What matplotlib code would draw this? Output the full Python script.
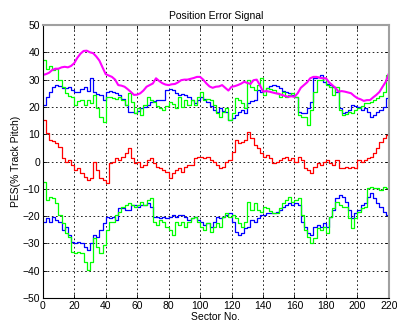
import matplotlib
matplotlib.use("Agg")
import matplotlib.pyplot as plt
import numpy as np

plt.rcParams["font.family"] = ["Liberation Sans", "DejaVu Sans"]

sectors = np.arange(0, 221, 2)

pes_max = [
    31.7, 32, 32.5, 33.5, 34, 34, 34.5, 34.7, 34.5, 35,
    36, 38, 39.5, 40.5, 40.6, 40, 39.7, 38.5, 37, 34.5,
    32, 31.5, 31, 30, 28, 27.8, 27.4, 26.5, 25.5, 24.4,
    24.5, 25, 26, 27.4, 28, 28.6, 30.5, 29.5, 28.7, 28.2,
    28, 28.3, 28.4, 29, 29.8, 30, 30, 30.3, 30.6, 31,
    31, 30, 28.6, 27.5, 27, 27.4, 27.5, 28, 27, 26,
    27.4, 27.6, 28, 28.5, 29.2, 28.8, 28.4, 29.8, 30, 28,
    25.6, 25.8, 25.6, 25.3, 25, 24.8, 24.4, 24, 23.7, 23.9,
    23.7, 25, 27, 28, 29, 30.5, 31, 31, 30.7, 30.5,
    30.5, 29, 28, 27, 25.6, 25.8, 25.6, 25.3, 25, 24,
    23.2, 22.8, 22.2, 22.5, 22.5, 23.5, 24.4, 25.5, 27.4, 29.2,
    32.3,
]

blue_upper = [
    20.7, 23.7, 25.5, 27.4, 28, 27.5, 26.8, 27, 27.4, 26.2,
    25.6, 25.6, 26.5, 27.4, 26, 30.5, 25.6, 24.8, 24.4, 22.5,
    25.6, 25.8, 25.6, 25, 24.4, 23, 20.7, 18.2, 18.2, 17.7,
    18.5, 19.6, 20, 20.7, 21.9, 22, 22.5, 22.5, 22.5, 26.2,
    26.5, 26.2, 25, 24.4, 24.6, 24.4, 23.5, 22.5, 21.4, 22.5,
    23.7, 22.8, 21.9, 20.5, 18.9, 18, 19.6, 18.5, 18.2, 15.2,
    16, 17, 18, 18.9, 17.7, 21.4, 22, 22.5, 26.2, 25.6,
    26, 26.8, 27.5, 28, 27.5, 26.8, 26, 25.6, 25, 24.4,
    23.7, 18.2, 17.7, 17.7, 19.6, 21.9, 30.5, 31, 31.7, 29.2,
    28.5, 28, 27.4, 25.6, 19.6, 17.7, 18, 18.9, 20.7, 20.5,
    20, 18.9, 19.6, 18.2, 16.4, 17, 18.2, 19, 20, 23.1,
    22,
]

green_upper = [
    37.2, 34, 35, 33.5, 34, 29.8, 27.4, 25, 24, 23.7,
    20.7, 22, 22.5, 20.7, 22.5, 21.4, 24.4, 19.6, 16.4, 14.3,
    23.7, 23.5, 23.1, 23, 23.7, 22.5, 20.7, 25, 21.9, 17.7,
    19.6, 17, 20.7, 23.7, 22.5, 21.9, 20.5, 19.6, 18.9, 20.5,
    21.9, 21, 19.6, 23.7, 20, 22.5, 20.7, 22.5, 20.7, 23.7,
    25.6, 22.5, 23, 22.5, 20.7, 17.7, 16.4, 18, 19.6, 15.2,
    17.7, 23.1, 22.5, 21.4, 19.6, 29.8, 27.4, 26.2, 28, 30.5,
    24.4, 26.8, 26.5, 26.2, 25, 23.7, 25.6, 23.7, 24.5, 25,
    23.7, 17, 16.4, 16.4, 13.4, 18.9, 25.6, 29.8, 30, 30.5,
    28, 27.4, 24.4, 27.4, 18.9, 17, 17.5, 18.2, 17.7, 18.9,
    19.6, 20.5, 21.4, 21.5, 21.9, 22.5, 23.1, 24, 25.6, 31.7,
    34.2,
]

pes_mean = [
    15.2, 10.4, 8, 7.5, 6.7, 5.5, 1.2, 0, 0.5, -1.3,
    -3.1, -2.5, -4.3, -5.6, -6.8, -6.2, 0, -3, -6.2, -6.8,
    -8, -0.6, 0, 1.2, 0.6, 1.8, 3, 5, 1.2, -0.6,
    0, -1.9, -1.3, 0.6, 1.2, -0.6, -1.9, -2.5, -3.1, -3.7,
    -6.2, -4.3, -3.1, -2.5, -3.7, -1.9, -1.3, -1.3, 1.2, 1.8,
    1.8, 1.2, 1.8, 0.6, 0, -1.3, -2.5, -1.9, 0, 0.6,
    3.6, 7.9, 6.7, 7.3, 7.9, 10.9, 8.5, 6, 4.8, 3,
    1.8, 2.4, 1.2, -0.6, 0, 0.6, 1.2, 1.8, 0.6, 1.2,
    0, 1.8, 0.6, -2.5, -3.1, -4.3, -1.9, -0.6, -1.3, 0,
    0.6, -0.6, -1.3, 0.6, -2.5, -2.5, -2, -2.5, -1.9, -2.5,
    0.6, 0, 0.6, 1.3, 1.8, 3, 4.8, 7.3, 8.5, 9.7,
    12.7,
]

blue_lower = [
    -22, -20.8, -22, -20.2, -21.4, -22, -25, -23.9, -26.9, -29.4,
    -30, -29.4, -30, -31.2, -32.4, -30, -26.9, -27.5, -25, -22.6,
    -20.2, -20.8, -20.2, -21.4, -17.1, -17.1, -17.7, -17.7, -15.9, -15.9,
    -16.5, -15.9, -15.9, -15.3, -16.5, -20.2, -20.2, -20.8, -20.2, -20.8,
    -20.2, -19.6, -20.2, -19.6, -19.6, -20.2, -21.4, -20.8, -20.2, -21.4,
    -22, -23.3, -22.6, -23.9, -22, -20.2, -20.8, -20.2, -19.6, -19,
    -22, -25.7, -26.9, -26.3, -24.5, -23.9, -21.4, -22, -20.8, -19.6,
    -19.6, -19, -19, -19, -18.4, -17.7, -16.5, -15.9, -15.3, -15.9,
    -15.3, -15.9, -22, -23.9, -26.3, -26.9, -23.9, -23.3, -23.9, -22.6,
    -23.9, -20.2, -17.7, -13.5, -12.3, -12.9, -14.7, -17.7, -20.8, -19,
    -17.7, -15.9, -15.3, -12.9, -11.7, -13.5, -15.3, -16.5, -18.4, -19.6,
    -23.3,
]

green_lower = [
    -7.4, -14.1, -12.9, -13.5, -15.3, -19.6, -22.6, -26.3, -27.5, -33,
    -33.6, -33, -33.6, -36.7, -39.7, -36.7, -28.1, -31.2, -33.6, -30.5,
    -25, -22, -22, -19.6, -18.4, -16.5, -15.9, -15.3, -15.9, -16.5,
    -15.9, -14.7, -15.9, -14.1, -13.5, -22, -23.3, -21.4, -22, -23.9,
    -25, -26.9, -22, -23.3, -22, -23.9, -22, -20.8, -20.2, -22,
    -23.9, -25, -22.6, -25.7, -23.9, -22.6, -23.9, -20.2, -19, -20.2,
    -19.6, -20.8, -22.6, -23.9, -22, -14.7, -17.7, -15.3, -17.7, -18.4,
    -16.5, -17.1, -18, -19, -19, -17.1, -15.3, -14.1, -12.9, -14.7,
    -14.1, -13.5, -19.6, -25, -27.5, -30, -28.1, -24.5, -25, -23.9,
    -26.3, -20.2, -17.1, -14.7, -15.9, -16.5, -16.5, -20.8, -24.5, -20.8,
    -18.4, -17.1, -16.5, -9.8, -9.2, -9.8, -9.8, -10.4, -9.2, -9.8,
    -11,
]

x_ticks = np.arange(0, 221, 20)
y_ticks = np.arange(-50, 51, 10)

fig = plt.figure(figsize=(3.97, 3.25), dpi=100)
ax = fig.add_axes([0.1076, 0.083, 0.872, 0.840])

ax.plot(sectors, blue_upper, color="#0000ff", lw=0.9, drawstyle="steps-post")
ax.plot(sectors, green_upper, color="#00ff00", lw=0.9, drawstyle="steps-post")
ax.plot(sectors, blue_lower, color="#0000ff", lw=0.9, drawstyle="steps-post")
ax.plot(sectors, green_lower, color="#00ff00", lw=0.9, drawstyle="steps-post")
ax.plot(sectors, pes_mean, color="#ff0000", lw=0.9, drawstyle="steps-post")
ax.plot(sectors, pes_max, color="#ff00ff", lw=1.5)

ax.set_xlim(0, 220)
ax.set_ylim(-50, 50)
ax.set_xticks(x_ticks)
ax.set_yticks(y_ticks)
ax.tick_params(direction="in", labelsize=7.5, length=3, width=0.6,
               top=True, right=True, pad=2)
ax.grid(True, color="black", linestyle=(0, (2, 3)), linewidth=0.6)

for side in ("left", "bottom"):
    ax.spines[side].set_color("black")
    ax.spines[side].set_linewidth(0.8)
for side in ("top", "right"):
    ax.spines[side].set_color("#a0a0a0")
    ax.spines[side].set_linewidth(1.5)

ax.set_title("Position Error Signal", fontsize=7.5, pad=4)
ax.set_xlabel("Sector No.", fontsize=7.5, labelpad=1)
ax.set_ylabel("PES(% Track Pitch)", fontsize=7.5, labelpad=1)

fig.savefig("out.png", dpi=100, facecolor="white")
